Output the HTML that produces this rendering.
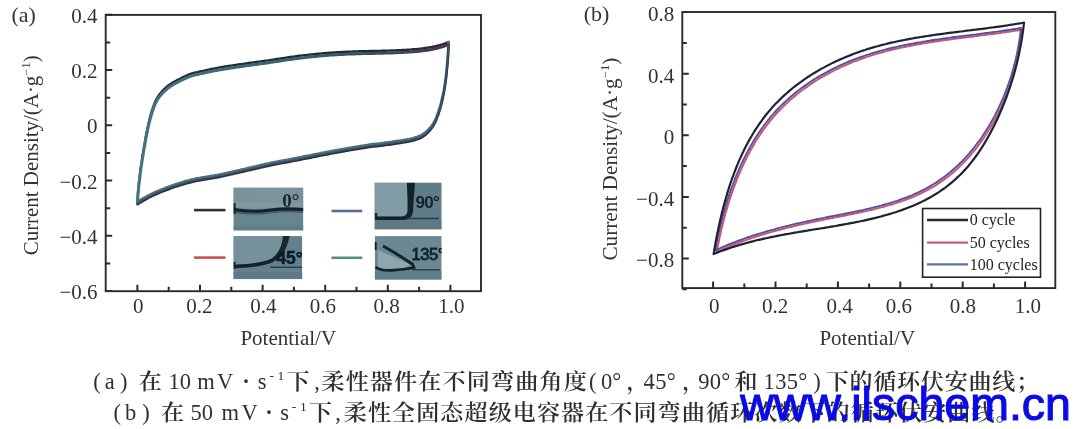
<!DOCTYPE html>
<html><head><meta charset="utf-8"><title>CV curves</title>
<style>html,body{margin:0;padding:0;background:#fff;width:1080px;height:429px;overflow:hidden}
.wrap{position:relative;width:1080px;height:429px}</style></head>
<body><div class="wrap">
<svg width="1080" height="429" viewBox="0 0 1080 429" style="position:absolute;left:0;top:0"><rect width="1080" height="429" fill="#fff"/><defs><linearGradient id="gU" gradientUnits="userSpaceOnUse" x1="140" y1="0" x2="450" y2="0"><stop offset="0" stop-color="#46747f"/><stop offset="0.5" stop-color="#3a6070"/><stop offset="0.85" stop-color="#344a5c"/><stop offset="1" stop-color="#46344a"/></linearGradient><linearGradient id="gT" gradientUnits="userSpaceOnUse" x1="140" y1="0" x2="450" y2="0"><stop offset="0" stop-color="#243440"/><stop offset="0.7" stop-color="#1e2834"/><stop offset="1" stop-color="#3a2230"/></linearGradient></defs><g fill="none" stroke-linejoin="round" stroke-linecap="round"><path d="M137.6,203.0 L137.7,201.5 L137.7,200.0 L137.8,198.5 L137.8,197.0 L137.9,195.5 L138.0,194.0 L138.1,192.5 L138.2,191.0 L138.4,189.5 L138.5,188.0 L138.7,186.5 L138.8,185.0 L139.0,183.5 L139.1,182.0 L139.3,180.5 L139.5,179.0 L139.7,177.5 L139.9,176.1 L140.0,174.6 L140.2,173.1 L140.4,171.6 L140.6,170.1 L140.8,168.6 L141.0,167.1 L141.2,165.6 L141.5,164.1 L141.7,162.7 L141.9,161.2 L142.1,159.7 L142.4,158.2 L142.6,156.7 L142.9,155.2 L143.1,153.7 L143.3,152.3 L143.6,150.8 L143.8,149.3 L144.1,147.8 L144.3,146.3 L144.6,144.9 L144.9,143.4 L145.1,141.9 L145.4,140.4 L145.6,138.9 L145.9,137.5 L146.2,136.0 L146.5,134.5 L146.8,133.0 L147.1,131.6 L147.4,130.1 L147.7,128.6 L148.0,127.1 L148.3,125.7 L148.7,124.2 L149.0,122.8 L149.4,121.3 L149.7,119.8 L150.1,118.4 L150.5,116.9 L150.9,115.5 L151.3,114.0 L151.7,112.6 L152.2,111.2 L152.7,109.7 L153.1,108.3 L153.7,106.9 L154.2,105.5 L154.8,104.1 L155.4,102.7 L156.0,101.4 L156.7,100.1 L157.5,98.8 L158.3,97.5 L159.1,96.2 L160.0,95.1 L161.0,93.9 L162.0,92.8 L163.0,91.7 L164.1,90.6 L165.2,89.6 L166.3,88.6 L167.4,87.6 L168.6,86.7 L169.8,85.8 L171.1,85.0 L172.3,84.2 L173.6,83.4 L174.9,82.7 L176.3,82.0 L177.6,81.3 L178.9,80.6 L180.3,79.9 L181.6,79.2 L182.9,78.5 L184.3,77.9 L185.7,77.3 L187.0,76.7 L188.4,76.1 L189.8,75.6 L191.3,75.1 L192.7,74.6 L194.1,74.2 L195.6,73.9 L197.1,73.6 L198.5,73.2 L200.0,72.9 L201.5,72.6 L202.9,72.3 L204.4,72.0 L205.9,71.6 L207.3,71.3 L208.8,71.0 L210.3,70.7 L211.7,70.4 L213.2,70.1 L214.7,69.8 L216.2,69.5 L217.6,69.2 L219.1,68.9 L220.6,68.7 L222.1,68.4 L223.6,68.2 L225.1,67.9 L226.5,67.7 L228.0,67.5 L229.5,67.2 L231.0,67.0 L232.5,66.8 L234.0,66.6 L235.5,66.4 L236.9,66.1 L238.4,65.9 L239.9,65.7 L241.4,65.5 L242.9,65.3 L244.4,65.1 L245.9,64.9 L247.4,64.6 L248.8,64.4 L250.3,64.2 L251.8,64.0 L253.3,63.8 L254.8,63.6 L256.3,63.4 L257.8,63.2 L259.3,63.0 L260.7,62.8 L262.2,62.6 L263.7,62.4 L265.2,62.2 L266.7,62.0 L268.2,61.8 L269.7,61.5 L271.2,61.3 L272.7,61.1 L274.1,60.9 L275.6,60.6 L277.1,60.4 L278.6,60.2 L280.1,60.0 L281.6,59.7 L283.1,59.5 L284.5,59.3 L286.0,59.0 L287.5,58.8 L289.0,58.6 L290.5,58.4 L292.0,58.2 L293.5,58.0 L295.0,57.8 L296.4,57.6 L297.9,57.4 L299.4,57.2 L300.9,57.0 L302.4,56.8 L303.9,56.7 L305.4,56.5 L306.9,56.3 L308.4,56.2 L309.9,56.0 L311.4,55.8 L312.9,55.7 L314.4,55.5 L315.9,55.4 L317.4,55.2 L318.9,55.1 L320.3,55.0 L321.8,54.8 L323.3,54.7 L324.8,54.6 L326.3,54.4 L327.8,54.3 L329.3,54.2 L330.8,54.1 L332.3,54.0 L333.8,53.9 L335.3,53.8 L336.8,53.7 L338.3,53.6 L339.8,53.5 L341.3,53.4 L342.8,53.4 L344.3,53.3 L345.8,53.2 L347.3,53.1 L348.8,53.1 L350.3,53.0 L351.8,53.0 L353.3,52.9 L354.8,52.9 L356.3,52.8 L357.9,52.8 L359.4,52.7 L360.9,52.7 L362.4,52.6 L363.9,52.6 L365.4,52.5 L366.9,52.5 L368.4,52.5 L369.9,52.4 L371.4,52.4 L372.9,52.4 L374.4,52.4 L375.9,52.3 L377.4,52.3 L378.9,52.3 L380.4,52.3 L381.9,52.2 L383.4,52.2 L384.9,52.1 L386.4,52.1 L387.9,52.0 L389.4,52.0 L390.9,51.9 L392.4,51.9 L393.9,51.8 L395.4,51.8 L396.9,51.7 L398.4,51.6 L399.9,51.6 L401.4,51.5 L402.9,51.4 L404.4,51.3 L405.9,51.3 L407.4,51.2 L408.9,51.1 L410.4,51.0 L411.9,50.8 L413.4,50.7 L414.9,50.6 L416.4,50.5 L417.9,50.3 L419.4,50.2 L420.9,50.0 L422.4,49.8 L423.9,49.6 L425.4,49.4 L426.9,49.2 L428.3,49.0 L429.8,48.7 L431.3,48.5 L432.8,48.2 L434.2,47.9 L435.7,47.5 L437.2,47.2 L438.6,46.8 L440.1,46.4 L441.5,46.0 L443.0,45.6 L444.4,45.1 L445.8,44.5 L447.1,43.9 L448.5,43.3" stroke="url(#gT)" stroke-width="2.4" transform="translate(0,-1.4)"/><path d="M137.6,203.0 L137.7,201.5 L137.7,200.0 L137.8,198.5 L137.8,197.0 L137.9,195.5 L138.0,194.0 L138.1,192.5 L138.2,191.0 L138.4,189.5 L138.5,188.0 L138.7,186.5 L138.8,185.0 L139.0,183.5 L139.1,182.0 L139.3,180.5 L139.5,179.0 L139.7,177.5 L139.9,176.1 L140.0,174.6 L140.2,173.1 L140.4,171.6 L140.6,170.1 L140.8,168.6 L141.0,167.1 L141.2,165.6 L141.5,164.1 L141.7,162.7 L141.9,161.2 L142.1,159.7 L142.4,158.2 L142.6,156.7 L142.9,155.2 L143.1,153.7 L143.3,152.3 L143.6,150.8 L143.8,149.3 L144.1,147.8 L144.3,146.3 L144.6,144.9 L144.9,143.4 L145.1,141.9 L145.4,140.4 L145.6,138.9 L145.9,137.5 L146.2,136.0 L146.5,134.5 L146.8,133.0 L147.1,131.6 L147.4,130.1 L147.7,128.6 L148.0,127.1 L148.3,125.7 L148.7,124.2 L149.0,122.8 L149.4,121.3 L149.7,119.8 L150.1,118.4 L150.5,116.9 L150.9,115.5 L151.3,114.0 L151.7,112.6 L152.2,111.2 L152.7,109.7 L153.1,108.3 L153.7,106.9 L154.2,105.5 L154.8,104.1 L155.4,102.7 L156.0,101.4 L156.7,100.1 L157.5,98.8 L158.3,97.5 L159.1,96.2 L160.0,95.1 L161.0,93.9 L162.0,92.8 L163.0,91.7 L164.1,90.6 L165.2,89.6 L166.3,88.6 L167.4,87.6 L168.6,86.7 L169.8,85.8 L171.1,85.0 L172.3,84.2 L173.6,83.4 L174.9,82.7 L176.3,82.0 L177.6,81.3 L178.9,80.6 L180.3,79.9 L181.6,79.2 L182.9,78.5 L184.3,77.9 L185.7,77.3 L187.0,76.7 L188.4,76.1 L189.8,75.6 L191.3,75.1 L192.7,74.6 L194.1,74.2 L195.6,73.9 L197.1,73.6 L198.5,73.2 L200.0,72.9 L201.5,72.6 L202.9,72.3 L204.4,72.0 L205.9,71.6 L207.3,71.3 L208.8,71.0 L210.3,70.7 L211.7,70.4 L213.2,70.1 L214.7,69.8 L216.2,69.5 L217.6,69.2 L219.1,68.9 L220.6,68.7 L222.1,68.4 L223.6,68.2 L225.1,67.9 L226.5,67.7 L228.0,67.5 L229.5,67.2 L231.0,67.0 L232.5,66.8 L234.0,66.6 L235.5,66.4 L236.9,66.1 L238.4,65.9 L239.9,65.7 L241.4,65.5 L242.9,65.3 L244.4,65.1 L245.9,64.9 L247.4,64.6 L248.8,64.4 L250.3,64.2 L251.8,64.0 L253.3,63.8 L254.8,63.6 L256.3,63.4 L257.8,63.2 L259.3,63.0 L260.7,62.8 L262.2,62.6 L263.7,62.4 L265.2,62.2 L266.7,62.0 L268.2,61.8 L269.7,61.5 L271.2,61.3 L272.7,61.1 L274.1,60.9 L275.6,60.6 L277.1,60.4 L278.6,60.2 L280.1,60.0 L281.6,59.7 L283.1,59.5 L284.5,59.3 L286.0,59.0 L287.5,58.8 L289.0,58.6 L290.5,58.4 L292.0,58.2 L293.5,58.0 L295.0,57.8 L296.4,57.6 L297.9,57.4 L299.4,57.2 L300.9,57.0 L302.4,56.8 L303.9,56.7 L305.4,56.5 L306.9,56.3 L308.4,56.2 L309.9,56.0 L311.4,55.8 L312.9,55.7 L314.4,55.5 L315.9,55.4 L317.4,55.2 L318.9,55.1 L320.3,55.0 L321.8,54.8 L323.3,54.7 L324.8,54.6 L326.3,54.4 L327.8,54.3 L329.3,54.2 L330.8,54.1 L332.3,54.0 L333.8,53.9 L335.3,53.8 L336.8,53.7 L338.3,53.6 L339.8,53.5 L341.3,53.4 L342.8,53.4 L344.3,53.3 L345.8,53.2 L347.3,53.1 L348.8,53.1 L350.3,53.0 L351.8,53.0 L353.3,52.9 L354.8,52.9 L356.3,52.8 L357.9,52.8 L359.4,52.7 L360.9,52.7 L362.4,52.6 L363.9,52.6 L365.4,52.5 L366.9,52.5 L368.4,52.5 L369.9,52.4 L371.4,52.4 L372.9,52.4 L374.4,52.4 L375.9,52.3 L377.4,52.3 L378.9,52.3 L380.4,52.3 L381.9,52.2 L383.4,52.2 L384.9,52.1 L386.4,52.1 L387.9,52.0 L389.4,52.0 L390.9,51.9 L392.4,51.9 L393.9,51.8 L395.4,51.8 L396.9,51.7 L398.4,51.6 L399.9,51.6 L401.4,51.5 L402.9,51.4 L404.4,51.3 L405.9,51.3 L407.4,51.2 L408.9,51.1 L410.4,51.0 L411.9,50.8 L413.4,50.7 L414.9,50.6 L416.4,50.5 L417.9,50.3 L419.4,50.2 L420.9,50.0 L422.4,49.8 L423.9,49.6 L425.4,49.4 L426.9,49.2 L428.3,49.0 L429.8,48.7 L431.3,48.5 L432.8,48.2 L434.2,47.9 L435.7,47.5 L437.2,47.2 L438.6,46.8 L440.1,46.4 L441.5,46.0 L443.0,45.6 L444.4,45.1 L445.8,44.5 L447.1,43.9 L448.5,43.3" stroke="url(#gU)" stroke-width="3" transform="translate(0,1.0)"/><path d="M448.5,43.3 L448.5,44.8 L448.4,46.3 L448.4,47.8 L448.3,49.3 L448.3,50.8 L448.2,52.3 L448.1,53.8 L448.0,55.3 L447.9,56.8 L447.8,58.3 L447.7,59.8 L447.6,61.3 L447.4,62.8 L447.3,64.3 L447.2,65.8 L447.0,67.3 L446.9,68.8 L446.8,70.3 L446.6,71.8 L446.5,73.2 L446.3,74.7 L446.1,76.2 L446.0,77.7 L445.8,79.2 L445.6,80.7 L445.4,82.2 L445.2,83.7 L444.9,85.2 L444.7,86.6 L444.5,88.1 L444.2,89.6 L444.0,91.1 L443.7,92.6 L443.4,94.0 L443.1,95.5 L442.8,97.0 L442.5,98.4 L442.1,99.9 L441.8,101.4 L441.4,102.8 L441.1,104.3 L440.7,105.7 L440.3,107.2 L439.9,108.6 L439.4,110.0 L438.9,111.5 L438.5,112.9 L438.0,114.3 L437.4,115.7 L436.9,117.1 L436.4,118.5 L435.8,119.9 L435.2,121.3 L434.5,122.6 L433.8,123.9 L433.0,125.2 L432.2,126.4 L431.3,127.6 L430.3,128.8 L429.3,129.9 L428.3,131.0 L427.2,132.1 L426.1,133.1 L425.0,134.0 L423.8,134.9 L422.5,135.7 L421.2,136.5 L419.9,137.1 L418.5,137.6 L417.1,138.2 L415.6,138.6 L414.2,139.1 L412.8,139.5 L411.3,139.8 L409.8,140.2 L408.4,140.5 L406.9,140.7 L405.4,141.0 L403.9,141.2 L402.5,141.5 L401.0,141.7 L399.5,142.0 L398.0,142.2 L396.5,142.4 L395.0,142.6 L393.5,142.8 L392.1,143.1 L390.6,143.3 L389.1,143.5 L387.6,143.7 L386.1,143.9 L384.6,144.1 L383.1,144.3 L381.7,144.5 L380.2,144.7 L378.7,144.8 L377.2,145.0 L375.7,145.1 L374.2,145.3 L372.7,145.4 L371.2,145.6 L369.7,145.8 L368.2,146.1 L366.8,146.3 L365.3,146.5 L363.8,146.8 L362.3,147.0 L360.8,147.2 L359.3,147.5 L357.9,147.7 L356.4,148.0 L354.9,148.2 L353.4,148.5 L351.9,148.7 L350.5,149.0 L349.0,149.2 L347.5,149.5 L346.0,149.7 L344.5,150.0 L343.1,150.3 L341.6,150.5 L340.1,150.8 L338.6,151.1 L337.2,151.3 L335.7,151.6 L334.2,151.9 L332.7,152.2 L331.3,152.4 L329.8,152.7 L328.3,153.0 L326.8,153.3 L325.4,153.6 L323.9,153.9 L322.4,154.2 L320.9,154.4 L319.5,154.7 L318.0,155.0 L316.5,155.3 L315.1,155.6 L313.6,155.9 L312.1,156.2 L310.6,156.5 L309.2,156.8 L307.7,157.0 L306.2,157.3 L304.7,157.6 L303.3,157.9 L301.8,158.2 L300.3,158.5 L298.8,158.8 L297.4,159.1 L295.9,159.4 L294.4,159.6 L293.0,159.9 L291.5,160.2 L290.0,160.5 L288.5,160.8 L287.1,161.1 L285.6,161.3 L284.1,161.6 L282.6,161.9 L281.2,162.1 L279.7,162.4 L278.2,162.7 L276.7,163.0 L275.3,163.2 L273.8,163.5 L272.3,163.8 L270.8,164.1 L269.4,164.5 L267.9,164.8 L266.4,165.1 L265.0,165.4 L263.5,165.8 L262.0,166.1 L260.6,166.4 L259.1,166.8 L257.7,167.1 L256.2,167.5 L254.7,167.8 L253.3,168.1 L251.8,168.5 L250.3,168.8 L248.9,169.1 L247.4,169.5 L246.0,169.8 L244.5,170.2 L243.0,170.5 L241.6,170.8 L240.1,171.2 L238.6,171.5 L237.2,171.9 L235.7,172.2 L234.3,172.5 L232.8,172.9 L231.3,173.2 L229.9,173.5 L228.4,173.9 L226.9,174.2 L225.5,174.5 L224.0,174.9 L222.5,175.2 L221.1,175.5 L219.6,175.8 L218.1,176.1 L216.7,176.3 L215.2,176.6 L213.7,176.9 L212.2,177.1 L210.7,177.3 L209.3,177.6 L207.8,177.8 L206.3,178.1 L204.8,178.3 L203.3,178.5 L201.8,178.8 L200.4,179.1 L198.9,179.3 L197.4,179.6 L196.0,179.9 L194.5,180.2 L193.0,180.6 L191.6,180.9 L190.1,181.3 L188.7,181.7 L187.2,182.0 L185.8,182.4 L184.3,182.9 L182.9,183.3 L181.4,183.7 L180.0,184.2 L178.6,184.6 L177.1,185.1 L175.7,185.5 L174.3,186.0 L172.9,186.5 L171.5,187.0 L170.0,187.5 L168.6,188.1 L167.2,188.6 L165.8,189.1 L164.4,189.7 L163.0,190.2 L161.6,190.8 L160.3,191.3 L158.9,191.9 L157.5,192.5 L156.1,193.1 L154.7,193.7 L153.4,194.3 L152.0,195.0 L150.7,195.6 L149.3,196.3 L148.0,197.0 L146.7,197.7 L145.4,198.4 L144.0,199.2 L142.7,199.9 L141.5,200.7 L140.2,201.4 L138.9,202.2 L137.6,203.0" stroke="#4b7080" stroke-width="2.8" transform="translate(0,-1.2)"/><path d="M448.5,43.3 L448.5,44.8 L448.4,46.3 L448.4,47.8 L448.3,49.3 L448.3,50.8 L448.2,52.3 L448.1,53.8 L448.0,55.3 L447.9,56.8 L447.8,58.3 L447.7,59.8 L447.6,61.3 L447.4,62.8 L447.3,64.3 L447.2,65.8 L447.0,67.3 L446.9,68.8 L446.8,70.3 L446.6,71.8 L446.5,73.2 L446.3,74.7 L446.1,76.2 L446.0,77.7 L445.8,79.2 L445.6,80.7 L445.4,82.2 L445.2,83.7 L444.9,85.2 L444.7,86.6 L444.5,88.1 L444.2,89.6 L444.0,91.1 L443.7,92.6 L443.4,94.0 L443.1,95.5 L442.8,97.0 L442.5,98.4 L442.1,99.9 L441.8,101.4 L441.4,102.8 L441.1,104.3 L440.7,105.7 L440.3,107.2 L439.9,108.6 L439.4,110.0 L438.9,111.5 L438.5,112.9 L438.0,114.3 L437.4,115.7 L436.9,117.1 L436.4,118.5 L435.8,119.9 L435.2,121.3 L434.5,122.6 L433.8,123.9 L433.0,125.2 L432.2,126.4 L431.3,127.6 L430.3,128.8 L429.3,129.9 L428.3,131.0 L427.2,132.1 L426.1,133.1 L425.0,134.0 L423.8,134.9 L422.5,135.7 L421.2,136.5 L419.9,137.1 L418.5,137.6 L417.1,138.2 L415.6,138.6 L414.2,139.1 L412.8,139.5 L411.3,139.8 L409.8,140.2 L408.4,140.5 L406.9,140.7 L405.4,141.0 L403.9,141.2 L402.5,141.5 L401.0,141.7 L399.5,142.0 L398.0,142.2 L396.5,142.4 L395.0,142.6 L393.5,142.8 L392.1,143.1 L390.6,143.3 L389.1,143.5 L387.6,143.7 L386.1,143.9 L384.6,144.1 L383.1,144.3 L381.7,144.5 L380.2,144.7 L378.7,144.8 L377.2,145.0 L375.7,145.1 L374.2,145.3 L372.7,145.4 L371.2,145.6 L369.7,145.8 L368.2,146.1 L366.8,146.3 L365.3,146.5 L363.8,146.8 L362.3,147.0 L360.8,147.2 L359.3,147.5 L357.9,147.7 L356.4,148.0 L354.9,148.2 L353.4,148.5 L351.9,148.7 L350.5,149.0 L349.0,149.2 L347.5,149.5 L346.0,149.7 L344.5,150.0 L343.1,150.3 L341.6,150.5 L340.1,150.8 L338.6,151.1 L337.2,151.3 L335.7,151.6 L334.2,151.9 L332.7,152.2 L331.3,152.4 L329.8,152.7 L328.3,153.0 L326.8,153.3 L325.4,153.6 L323.9,153.9 L322.4,154.2 L320.9,154.4 L319.5,154.7 L318.0,155.0 L316.5,155.3 L315.1,155.6 L313.6,155.9 L312.1,156.2 L310.6,156.5 L309.2,156.8 L307.7,157.0 L306.2,157.3 L304.7,157.6 L303.3,157.9 L301.8,158.2 L300.3,158.5 L298.8,158.8 L297.4,159.1 L295.9,159.4 L294.4,159.6 L293.0,159.9 L291.5,160.2 L290.0,160.5 L288.5,160.8 L287.1,161.1 L285.6,161.3 L284.1,161.6 L282.6,161.9 L281.2,162.1 L279.7,162.4 L278.2,162.7 L276.7,163.0 L275.3,163.2 L273.8,163.5 L272.3,163.8 L270.8,164.1 L269.4,164.5 L267.9,164.8 L266.4,165.1 L265.0,165.4 L263.5,165.8 L262.0,166.1 L260.6,166.4 L259.1,166.8 L257.7,167.1 L256.2,167.5 L254.7,167.8 L253.3,168.1 L251.8,168.5 L250.3,168.8 L248.9,169.1 L247.4,169.5 L246.0,169.8 L244.5,170.2 L243.0,170.5 L241.6,170.8 L240.1,171.2 L238.6,171.5 L237.2,171.9 L235.7,172.2 L234.3,172.5 L232.8,172.9 L231.3,173.2 L229.9,173.5 L228.4,173.9 L226.9,174.2 L225.5,174.5 L224.0,174.9 L222.5,175.2 L221.1,175.5 L219.6,175.8 L218.1,176.1 L216.7,176.3 L215.2,176.6 L213.7,176.9 L212.2,177.1 L210.7,177.3 L209.3,177.6 L207.8,177.8 L206.3,178.1 L204.8,178.3 L203.3,178.5 L201.8,178.8 L200.4,179.1 L198.9,179.3 L197.4,179.6 L196.0,179.9 L194.5,180.2 L193.0,180.6 L191.6,180.9 L190.1,181.3 L188.7,181.7 L187.2,182.0 L185.8,182.4 L184.3,182.9 L182.9,183.3 L181.4,183.7 L180.0,184.2 L178.6,184.6 L177.1,185.1 L175.7,185.5 L174.3,186.0 L172.9,186.5 L171.5,187.0 L170.0,187.5 L168.6,188.1 L167.2,188.6 L165.8,189.1 L164.4,189.7 L163.0,190.2 L161.6,190.8 L160.3,191.3 L158.9,191.9 L157.5,192.5 L156.1,193.1 L154.7,193.7 L153.4,194.3 L152.0,195.0 L150.7,195.6 L149.3,196.3 L148.0,197.0 L146.7,197.7 L145.4,198.4 L144.0,199.2 L142.7,199.9 L141.5,200.7 L140.2,201.4 L138.9,202.2 L137.6,203.0" stroke="#2c3242" stroke-width="2.4" transform="translate(0,1.2)"/><path d="M448.5,43.3 L448.5,44.8 L448.4,46.3 L448.4,47.8 L448.3,49.3 L448.3,50.8 L448.2,52.3 L448.1,53.8 L448.0,55.3 L447.9,56.8 L447.8,58.3 L447.7,59.8 L447.6,61.3 L447.4,62.8 L447.3,64.3 L447.2,65.8 L447.0,67.3 L446.9,68.8 L446.8,70.3 L446.6,71.8 L446.5,73.2 L446.3,74.7 L446.1,76.2 L446.0,77.7 L445.8,79.2 L445.6,80.7 L445.4,82.2 L445.2,83.7 L444.9,85.2 L444.7,86.6 L444.5,88.1 L444.2,89.6 L444.0,91.1 L443.7,92.6 L443.4,94.0 L443.1,95.5 L442.8,97.0 L442.5,98.4 L442.1,99.9 L441.8,101.4 L441.4,102.8 L441.1,104.3 L440.7,105.7 L440.3,107.2 L439.9,108.6 L439.4,110.0 L438.9,111.5 L438.5,112.9 L438.0,114.3 L437.4,115.7 L436.9,117.1 L436.4,118.5 L435.8,119.9 L435.2,121.3 L434.5,122.6 L433.8,123.9 L433.0,125.2 L432.2,126.4 L431.3,127.6 L430.3,128.8 L429.3,129.9 L428.3,131.0 L427.2,132.1 L426.1,133.1 L425.0,134.0 L423.8,134.9 L422.5,135.7 L421.2,136.5 L419.9,137.1 L418.5,137.6 L417.1,138.2 L415.6,138.6 L414.2,139.1 L412.8,139.5 L411.3,139.8 L409.8,140.2 L408.4,140.5 L406.9,140.7 L405.4,141.0 L403.9,141.2 L402.5,141.5 L401.0,141.7 L399.5,142.0 L398.0,142.2 L396.5,142.4 L395.0,142.6 L393.5,142.8 L392.1,143.1 L390.6,143.3 L389.1,143.5 L387.6,143.7 L386.1,143.9 L384.6,144.1 L383.1,144.3 L381.7,144.5 L380.2,144.7 L378.7,144.8 L377.2,145.0 L375.7,145.1 L374.2,145.3 L372.7,145.4 L371.2,145.6 L369.7,145.8 L368.2,146.1 L366.8,146.3 L365.3,146.5 L363.8,146.8 L362.3,147.0 L360.8,147.2 L359.3,147.5 L357.9,147.7 L356.4,148.0 L354.9,148.2 L353.4,148.5 L351.9,148.7 L350.5,149.0 L349.0,149.2 L347.5,149.5 L346.0,149.7 L344.5,150.0 L343.1,150.3 L341.6,150.5 L340.1,150.8 L338.6,151.1 L337.2,151.3 L335.7,151.6 L334.2,151.9 L332.7,152.2 L331.3,152.4 L329.8,152.7 L328.3,153.0 L326.8,153.3 L325.4,153.6 L323.9,153.9 L322.4,154.2 L320.9,154.4 L319.5,154.7 L318.0,155.0 L316.5,155.3 L315.1,155.6 L313.6,155.9 L312.1,156.2 L310.6,156.5 L309.2,156.8 L307.7,157.0 L306.2,157.3 L304.7,157.6 L303.3,157.9 L301.8,158.2 L300.3,158.5 L298.8,158.8 L297.4,159.1 L295.9,159.4 L294.4,159.6 L293.0,159.9 L291.5,160.2 L290.0,160.5 L288.5,160.8 L287.1,161.1 L285.6,161.3 L284.1,161.6 L282.6,161.9 L281.2,162.1 L279.7,162.4 L278.2,162.7 L276.7,163.0 L275.3,163.2 L273.8,163.5 L272.3,163.8 L270.8,164.1 L269.4,164.5 L267.9,164.8 L266.4,165.1 L265.0,165.4 L263.5,165.8 L262.0,166.1 L260.6,166.4 L259.1,166.8 L257.7,167.1 L256.2,167.5 L254.7,167.8 L253.3,168.1 L251.8,168.5 L250.3,168.8 L248.9,169.1 L247.4,169.5 L246.0,169.8 L244.5,170.2 L243.0,170.5 L241.6,170.8 L240.1,171.2 L238.6,171.5 L237.2,171.9 L235.7,172.2 L234.3,172.5 L232.8,172.9 L231.3,173.2 L229.9,173.5 L228.4,173.9 L226.9,174.2 L225.5,174.5 L224.0,174.9 L222.5,175.2 L221.1,175.5 L219.6,175.8 L218.1,176.1 L216.7,176.3 L215.2,176.6 L213.7,176.9 L212.2,177.1 L210.7,177.3 L209.3,177.6 L207.8,177.8 L206.3,178.1 L204.8,178.3 L203.3,178.5 L201.8,178.8 L200.4,179.1 L198.9,179.3 L197.4,179.6 L196.0,179.9 L194.5,180.2 L193.0,180.6 L191.6,180.9 L190.1,181.3 L188.7,181.7 L187.2,182.0 L185.8,182.4 L184.3,182.9 L182.9,183.3 L181.4,183.7 L180.0,184.2 L178.6,184.6 L177.1,185.1 L175.7,185.5 L174.3,186.0 L172.9,186.5 L171.5,187.0 L170.0,187.5 L168.6,188.1 L167.2,188.6 L165.8,189.1 L164.4,189.7 L163.0,190.2 L161.6,190.8 L160.3,191.3 L158.9,191.9 L157.5,192.5 L156.1,193.1 L154.7,193.7 L153.4,194.3 L152.0,195.0 L150.7,195.6 L149.3,196.3 L148.0,197.0 L146.7,197.7 L145.4,198.4 L144.0,199.2 L142.7,199.9 L141.5,200.7 L140.2,201.4 L138.9,202.2 L137.6,203.0" stroke="#3d5468" stroke-width="1.4" transform="translate(0,0.1)"/></g><g fill="none" stroke-linejoin="round"><path d="M715.8,250.5 L716.2,248.5 L716.6,246.5 L717.0,244.4 L717.4,242.4 L717.8,240.4 L718.2,238.3 L718.6,236.3 L719.1,234.2 L719.5,232.2 L720.0,230.1 L720.5,228.1 L721.0,226.0 L721.5,224.0 L722.0,221.9 L722.5,219.9 L723.0,217.8 L723.6,215.8 L724.1,213.7 L724.7,211.7 L725.3,209.6 L725.9,207.6 L726.5,205.5 L727.1,203.5 L727.7,201.5 L728.4,199.4 L729.0,197.4 L729.7,195.4 L730.4,193.4 L731.1,191.3 L731.8,189.3 L732.5,187.3 L733.3,185.3 L734.0,183.3 L734.8,181.3 L735.5,179.3 L736.3,177.4 L737.1,175.4 L738.0,173.4 L738.8,171.5 L739.6,169.5 L740.5,167.6 L741.4,165.6 L742.3,163.7 L743.2,161.8 L744.1,159.9 L745.0,158.0 L746.0,156.1 L746.9,154.2 L747.9,152.4 L748.9,150.5 L749.9,148.7 L751.0,146.8 L752.0,145.0 L753.1,143.2 L754.1,141.4 L755.2,139.6 L756.3,137.8 L757.5,136.1 L758.6,134.3 L759.8,132.6 L761.0,130.9 L762.1,129.2 L763.4,127.5 L764.6,125.8 L765.8,124.2 L767.1,122.5 L768.4,120.9 L769.7,119.3 L771.0,117.7 L772.3,116.1 L773.7,114.6 L775.0,113.0 L776.4,111.5 L777.8,110.0 L779.2,108.5 L780.7,107.1 L782.1,105.6 L783.6,104.2 L785.1,102.8 L786.6,101.4 L788.1,100.0 L789.6,98.6 L791.2,97.3 L792.7,95.9 L794.3,94.6 L795.9,93.3 L797.5,92.0 L799.1,90.8 L800.8,89.5 L802.4,88.3 L804.1,87.1 L805.8,85.9 L807.5,84.7 L809.2,83.5 L810.9,82.4 L812.6,81.2 L814.3,80.1 L816.1,79.0 L817.9,77.9 L819.6,76.9 L821.4,75.8 L823.2,74.8 L825.1,73.8 L826.9,72.8 L828.7,71.8 L830.6,70.8 L832.4,69.9 L834.3,68.9 L836.2,68.0 L838.1,67.1 L839.9,66.2 L841.9,65.3 L843.8,64.5 L845.7,63.6 L847.6,62.8 L849.6,62.0 L851.5,61.2 L853.5,60.4 L855.4,59.7 L857.4,58.9 L859.4,58.2 L861.4,57.5 L863.4,56.8 L865.4,56.1 L867.4,55.4 L869.4,54.8 L871.4,54.1 L873.5,53.5 L875.5,52.9 L877.6,52.3 L879.6,51.7 L881.7,51.2 L883.7,50.6 L885.8,50.1 L887.8,49.5 L889.9,49.0 L892.0,48.5 L894.1,48.0 L896.2,47.6 L898.3,47.1 L900.4,46.6 L902.5,46.2 L904.6,45.7 L906.7,45.3 L908.8,44.9 L910.9,44.5 L913.0,44.1 L915.1,43.7 L917.2,43.3 L919.3,42.9 L921.5,42.6 L923.6,42.2 L925.7,41.9 L927.8,41.5 L929.9,41.2 L932.1,40.8 L934.2,40.5 L936.3,40.2 L938.5,39.9 L940.6,39.6 L942.7,39.3 L944.8,39.0 L947.0,38.7 L949.1,38.4 L951.2,38.1 L953.3,37.8 L955.5,37.5 L957.6,37.3 L959.7,37.0 L961.8,36.7 L963.9,36.5 L966.0,36.2 L968.2,35.9 L970.3,35.7 L972.4,35.4 L974.5,35.1 L976.6,34.9 L978.7,34.6 L980.8,34.3 L982.8,34.1 L984.9,33.8 L987.0,33.5 L989.1,33.3 L991.1,33.0 L993.2,32.7 L995.3,32.4 L997.3,32.2 L999.4,31.9 L1001.4,31.6 L1003.5,31.3 L1005.5,31.0 L1007.5,30.7 L1009.5,30.4 L1011.5,30.1 L1013.5,29.8 L1015.5,29.5 L1017.5,29.2 L1019.5,28.8 L1021.5,28.5 L1021.3,30.5 L1021.0,32.6 L1020.8,34.6 L1020.5,36.6 L1020.2,38.7 L1019.9,40.7 L1019.6,42.7 L1019.3,44.8 L1018.9,46.8 L1018.5,48.9 L1018.1,50.9 L1017.7,52.9 L1017.3,55.0 L1016.8,57.0 L1016.4,59.0 L1015.9,61.1 L1015.4,63.1 L1014.8,65.1 L1014.3,67.2 L1013.8,69.2 L1013.2,71.2 L1012.6,73.2 L1012.0,75.2 L1011.4,77.2 L1010.7,79.2 L1010.1,81.2 L1009.4,83.2 L1008.7,85.2 L1008.0,87.2 L1007.3,89.2 L1006.5,91.2 L1005.7,93.1 L1005.0,95.1 L1004.2,97.0 L1003.4,99.0 L1002.5,100.9 L1001.7,102.8 L1000.8,104.7 L999.9,106.7 L999.0,108.6 L998.1,110.4 L997.2,112.3 L996.2,114.2 L995.3,116.1 L994.3,117.9 L993.3,119.7 L992.3,121.6 L991.2,123.4 L990.2,125.2 L989.1,127.0 L988.0,128.8 L986.9,130.5 L985.8,132.3 L984.7,134.0 L983.5,135.8 L982.4,137.5 L981.2,139.2 L980.0,140.9 L978.8,142.5 L977.5,144.2 L976.3,145.8 L975.0,147.5 L973.7,149.1 L972.4,150.7 L971.1,152.2 L969.8,153.8 L968.4,155.3 L967.0,156.9 L965.7,158.4 L964.3,159.8 L962.9,161.3 L961.4,162.8 L960.0,164.2 L958.5,165.6 L957.0,167.0 L955.5,168.4 L954.0,169.7 L952.5,171.1 L950.9,172.4 L949.4,173.7 L947.8,174.9 L946.2,176.2 L944.6,177.4 L943.0,178.6 L941.3,179.8 L939.7,180.9 L938.0,182.1 L936.3,183.2 L934.6,184.3 L932.9,185.3 L931.2,186.4 L929.4,187.4 L927.6,188.4 L925.8,189.3 L924.0,190.3 L922.2,191.2 L920.4,192.1 L918.6,193.0 L916.7,193.8 L914.8,194.7 L913.0,195.5 L911.1,196.3 L909.2,197.0 L907.2,197.8 L905.3,198.5 L903.4,199.2 L901.4,199.9 L899.5,200.6 L897.5,201.3 L895.5,201.9 L893.5,202.6 L891.6,203.2 L889.5,203.8 L887.5,204.4 L885.5,204.9 L883.5,205.5 L881.5,206.1 L879.4,206.6 L877.4,207.1 L875.3,207.6 L873.3,208.2 L871.2,208.7 L869.1,209.1 L867.1,209.6 L865.0,210.1 L862.9,210.6 L860.8,211.0 L858.8,211.5 L856.7,211.9 L854.6,212.3 L852.5,212.8 L850.4,213.2 L848.3,213.6 L846.2,214.0 L844.1,214.5 L842.0,214.9 L840.0,215.3 L837.9,215.7 L835.8,216.1 L833.7,216.5 L831.6,216.9 L829.5,217.3 L827.4,217.7 L825.4,218.1 L823.3,218.6 L821.2,219.0 L819.2,219.4 L817.1,219.8 L815.0,220.2 L813.0,220.7 L810.9,221.1 L808.9,221.5 L806.9,222.0 L804.8,222.4 L802.8,222.9 L800.8,223.3 L798.7,223.8 L796.7,224.2 L794.7,224.7 L792.7,225.2 L790.7,225.7 L788.7,226.2 L786.7,226.6 L784.7,227.1 L782.7,227.7 L780.7,228.2 L778.7,228.7 L776.7,229.2 L774.8,229.8 L772.8,230.3 L770.8,230.9 L768.8,231.4 L766.9,232.0 L764.9,232.6 L762.9,233.2 L761.0,233.8 L759.0,234.4 L757.1,235.0 L755.1,235.6 L753.2,236.2 L751.2,236.9 L749.3,237.5 L747.3,238.2 L745.4,238.9 L743.5,239.6 L741.5,240.3 L739.6,241.0 L737.7,241.7 L735.7,242.5 L733.8,243.2 L731.9,244.0 L729.9,244.7 L728.0,245.5 L726.1,246.3 L724.2,247.1 L722.3,247.9 L720.3,248.8 L718.4,249.6 L716.5,250.5 Z" stroke="#c4587a" stroke-width="2.0" transform="translate(1.0,1.0)"/><path d="M715.8,250.5 L716.2,248.5 L716.6,246.5 L717.0,244.4 L717.4,242.4 L717.8,240.4 L718.2,238.3 L718.6,236.3 L719.1,234.2 L719.5,232.2 L720.0,230.1 L720.5,228.1 L721.0,226.0 L721.5,224.0 L722.0,221.9 L722.5,219.9 L723.0,217.8 L723.6,215.8 L724.1,213.7 L724.7,211.7 L725.3,209.6 L725.9,207.6 L726.5,205.5 L727.1,203.5 L727.7,201.5 L728.4,199.4 L729.0,197.4 L729.7,195.4 L730.4,193.4 L731.1,191.3 L731.8,189.3 L732.5,187.3 L733.3,185.3 L734.0,183.3 L734.8,181.3 L735.5,179.3 L736.3,177.4 L737.1,175.4 L738.0,173.4 L738.8,171.5 L739.6,169.5 L740.5,167.6 L741.4,165.6 L742.3,163.7 L743.2,161.8 L744.1,159.9 L745.0,158.0 L746.0,156.1 L746.9,154.2 L747.9,152.4 L748.9,150.5 L749.9,148.7 L751.0,146.8 L752.0,145.0 L753.1,143.2 L754.1,141.4 L755.2,139.6 L756.3,137.8 L757.5,136.1 L758.6,134.3 L759.8,132.6 L761.0,130.9 L762.1,129.2 L763.4,127.5 L764.6,125.8 L765.8,124.2 L767.1,122.5 L768.4,120.9 L769.7,119.3 L771.0,117.7 L772.3,116.1 L773.7,114.6 L775.0,113.0 L776.4,111.5 L777.8,110.0 L779.2,108.5 L780.7,107.1 L782.1,105.6 L783.6,104.2 L785.1,102.8 L786.6,101.4 L788.1,100.0 L789.6,98.6 L791.2,97.3 L792.7,95.9 L794.3,94.6 L795.9,93.3 L797.5,92.0 L799.1,90.8 L800.8,89.5 L802.4,88.3 L804.1,87.1 L805.8,85.9 L807.5,84.7 L809.2,83.5 L810.9,82.4 L812.6,81.2 L814.3,80.1 L816.1,79.0 L817.9,77.9 L819.6,76.9 L821.4,75.8 L823.2,74.8 L825.1,73.8 L826.9,72.8 L828.7,71.8 L830.6,70.8 L832.4,69.9 L834.3,68.9 L836.2,68.0 L838.1,67.1 L839.9,66.2 L841.9,65.3 L843.8,64.5 L845.7,63.6 L847.6,62.8 L849.6,62.0 L851.5,61.2 L853.5,60.4 L855.4,59.7 L857.4,58.9 L859.4,58.2 L861.4,57.5 L863.4,56.8 L865.4,56.1 L867.4,55.4 L869.4,54.8 L871.4,54.1 L873.5,53.5 L875.5,52.9 L877.6,52.3 L879.6,51.7 L881.7,51.2 L883.7,50.6 L885.8,50.1 L887.8,49.5 L889.9,49.0 L892.0,48.5 L894.1,48.0 L896.2,47.6 L898.3,47.1 L900.4,46.6 L902.5,46.2 L904.6,45.7 L906.7,45.3 L908.8,44.9 L910.9,44.5 L913.0,44.1 L915.1,43.7 L917.2,43.3 L919.3,42.9 L921.5,42.6 L923.6,42.2 L925.7,41.9 L927.8,41.5 L929.9,41.2 L932.1,40.8 L934.2,40.5 L936.3,40.2 L938.5,39.9 L940.6,39.6 L942.7,39.3 L944.8,39.0 L947.0,38.7 L949.1,38.4 L951.2,38.1 L953.3,37.8 L955.5,37.5 L957.6,37.3 L959.7,37.0 L961.8,36.7 L963.9,36.5 L966.0,36.2 L968.2,35.9 L970.3,35.7 L972.4,35.4 L974.5,35.1 L976.6,34.9 L978.7,34.6 L980.8,34.3 L982.8,34.1 L984.9,33.8 L987.0,33.5 L989.1,33.3 L991.1,33.0 L993.2,32.7 L995.3,32.4 L997.3,32.2 L999.4,31.9 L1001.4,31.6 L1003.5,31.3 L1005.5,31.0 L1007.5,30.7 L1009.5,30.4 L1011.5,30.1 L1013.5,29.8 L1015.5,29.5 L1017.5,29.2 L1019.5,28.8 L1021.5,28.5 L1021.3,30.5 L1021.0,32.6 L1020.8,34.6 L1020.5,36.6 L1020.2,38.7 L1019.9,40.7 L1019.6,42.7 L1019.3,44.8 L1018.9,46.8 L1018.5,48.9 L1018.1,50.9 L1017.7,52.9 L1017.3,55.0 L1016.8,57.0 L1016.4,59.0 L1015.9,61.1 L1015.4,63.1 L1014.8,65.1 L1014.3,67.2 L1013.8,69.2 L1013.2,71.2 L1012.6,73.2 L1012.0,75.2 L1011.4,77.2 L1010.7,79.2 L1010.1,81.2 L1009.4,83.2 L1008.7,85.2 L1008.0,87.2 L1007.3,89.2 L1006.5,91.2 L1005.7,93.1 L1005.0,95.1 L1004.2,97.0 L1003.4,99.0 L1002.5,100.9 L1001.7,102.8 L1000.8,104.7 L999.9,106.7 L999.0,108.6 L998.1,110.4 L997.2,112.3 L996.2,114.2 L995.3,116.1 L994.3,117.9 L993.3,119.7 L992.3,121.6 L991.2,123.4 L990.2,125.2 L989.1,127.0 L988.0,128.8 L986.9,130.5 L985.8,132.3 L984.7,134.0 L983.5,135.8 L982.4,137.5 L981.2,139.2 L980.0,140.9 L978.8,142.5 L977.5,144.2 L976.3,145.8 L975.0,147.5 L973.7,149.1 L972.4,150.7 L971.1,152.2 L969.8,153.8 L968.4,155.3 L967.0,156.9 L965.7,158.4 L964.3,159.8 L962.9,161.3 L961.4,162.8 L960.0,164.2 L958.5,165.6 L957.0,167.0 L955.5,168.4 L954.0,169.7 L952.5,171.1 L950.9,172.4 L949.4,173.7 L947.8,174.9 L946.2,176.2 L944.6,177.4 L943.0,178.6 L941.3,179.8 L939.7,180.9 L938.0,182.1 L936.3,183.2 L934.6,184.3 L932.9,185.3 L931.2,186.4 L929.4,187.4 L927.6,188.4 L925.8,189.3 L924.0,190.3 L922.2,191.2 L920.4,192.1 L918.6,193.0 L916.7,193.8 L914.8,194.7 L913.0,195.5 L911.1,196.3 L909.2,197.0 L907.2,197.8 L905.3,198.5 L903.4,199.2 L901.4,199.9 L899.5,200.6 L897.5,201.3 L895.5,201.9 L893.5,202.6 L891.6,203.2 L889.5,203.8 L887.5,204.4 L885.5,204.9 L883.5,205.5 L881.5,206.1 L879.4,206.6 L877.4,207.1 L875.3,207.6 L873.3,208.2 L871.2,208.7 L869.1,209.1 L867.1,209.6 L865.0,210.1 L862.9,210.6 L860.8,211.0 L858.8,211.5 L856.7,211.9 L854.6,212.3 L852.5,212.8 L850.4,213.2 L848.3,213.6 L846.2,214.0 L844.1,214.5 L842.0,214.9 L840.0,215.3 L837.9,215.7 L835.8,216.1 L833.7,216.5 L831.6,216.9 L829.5,217.3 L827.4,217.7 L825.4,218.1 L823.3,218.6 L821.2,219.0 L819.2,219.4 L817.1,219.8 L815.0,220.2 L813.0,220.7 L810.9,221.1 L808.9,221.5 L806.9,222.0 L804.8,222.4 L802.8,222.9 L800.8,223.3 L798.7,223.8 L796.7,224.2 L794.7,224.7 L792.7,225.2 L790.7,225.7 L788.7,226.2 L786.7,226.6 L784.7,227.1 L782.7,227.7 L780.7,228.2 L778.7,228.7 L776.7,229.2 L774.8,229.8 L772.8,230.3 L770.8,230.9 L768.8,231.4 L766.9,232.0 L764.9,232.6 L762.9,233.2 L761.0,233.8 L759.0,234.4 L757.1,235.0 L755.1,235.6 L753.2,236.2 L751.2,236.9 L749.3,237.5 L747.3,238.2 L745.4,238.9 L743.5,239.6 L741.5,240.3 L739.6,241.0 L737.7,241.7 L735.7,242.5 L733.8,243.2 L731.9,244.0 L729.9,244.7 L728.0,245.5 L726.1,246.3 L724.2,247.1 L722.3,247.9 L720.3,248.8 L718.4,249.6 L716.5,250.5 Z" stroke="#5a4f9c" stroke-width="1.9" transform="translate(-0.5,-0.5)"/><path d="M713.6,254.0 L714.0,251.9 L714.3,249.8 L714.7,247.7 L715.0,245.6 L715.4,243.5 L715.8,241.4 L716.2,239.3 L716.6,237.2 L717.0,235.1 L717.4,232.9 L717.9,230.8 L718.3,228.7 L718.8,226.6 L719.2,224.4 L719.7,222.3 L720.2,220.1 L720.7,218.0 L721.2,215.9 L721.7,213.7 L722.2,211.6 L722.8,209.5 L723.3,207.3 L723.9,205.2 L724.5,203.1 L725.1,200.9 L725.7,198.8 L726.3,196.7 L726.9,194.6 L727.5,192.4 L728.2,190.3 L728.9,188.2 L729.5,186.1 L730.2,184.0 L730.9,181.9 L731.7,179.8 L732.4,177.8 L733.2,175.7 L733.9,173.6 L734.7,171.6 L735.5,169.5 L736.3,167.5 L737.1,165.4 L738.0,163.4 L738.8,161.4 L739.7,159.4 L740.6,157.4 L741.5,155.4 L742.4,153.4 L743.4,151.5 L744.3,149.5 L745.3,147.6 L746.3,145.6 L747.3,143.7 L748.3,141.8 L749.4,139.9 L750.4,138.0 L751.5,136.2 L752.6,134.3 L753.7,132.5 L754.8,130.6 L756.0,128.8 L757.2,127.1 L758.4,125.3 L759.6,123.5 L760.8,121.8 L762.1,120.1 L763.3,118.3 L764.6,116.7 L765.9,115.0 L767.3,113.3 L768.6,111.7 L770.0,110.1 L771.4,108.5 L772.8,106.9 L774.2,105.3 L775.7,103.8 L777.2,102.3 L778.7,100.8 L780.2,99.3 L781.7,97.8 L783.2,96.4 L784.8,94.9 L786.4,93.5 L788.0,92.1 L789.6,90.7 L791.2,89.4 L792.8,88.0 L794.5,86.7 L796.2,85.4 L797.9,84.1 L799.6,82.8 L801.3,81.6 L803.0,80.3 L804.8,79.1 L806.6,77.9 L808.3,76.7 L810.1,75.6 L811.9,74.4 L813.8,73.3 L815.6,72.2 L817.4,71.1 L819.3,70.0 L821.2,68.9 L823.1,67.9 L825.0,66.9 L826.9,65.9 L828.8,64.9 L830.7,63.9 L832.6,62.9 L834.6,62.0 L836.6,61.1 L838.5,60.2 L840.5,59.3 L842.5,58.4 L844.5,57.6 L846.5,56.7 L848.5,55.9 L850.6,55.1 L852.6,54.3 L854.6,53.5 L856.7,52.8 L858.7,52.1 L860.8,51.3 L862.9,50.6 L865.0,50.0 L867.0,49.3 L869.1,48.6 L871.2,48.0 L873.3,47.4 L875.4,46.8 L877.6,46.2 L879.7,45.6 L881.8,45.0 L883.9,44.5 L886.1,44.0 L888.2,43.4 L890.4,42.9 L892.5,42.4 L894.7,42.0 L896.8,41.5 L899.0,41.0 L901.2,40.6 L903.3,40.2 L905.5,39.7 L907.7,39.3 L909.8,38.9 L912.0,38.5 L914.2,38.1 L916.4,37.7 L918.6,37.4 L920.8,37.0 L923.0,36.7 L925.1,36.3 L927.3,36.0 L929.5,35.7 L931.7,35.3 L933.9,35.0 L936.1,34.7 L938.3,34.4 L940.5,34.1 L942.7,33.8 L944.9,33.5 L947.1,33.2 L949.3,32.9 L951.5,32.6 L953.6,32.4 L955.8,32.1 L958.0,31.8 L960.2,31.5 L962.4,31.3 L964.6,31.0 L966.8,30.7 L968.9,30.5 L971.1,30.2 L973.3,29.9 L975.4,29.7 L977.6,29.4 L979.8,29.1 L981.9,28.9 L984.1,28.6 L986.2,28.3 L988.4,28.0 L990.5,27.7 L992.6,27.5 L994.8,27.2 L996.9,26.9 L999.0,26.6 L1001.1,26.3 L1003.3,26.0 L1005.4,25.7 L1007.5,25.4 L1009.5,25.0 L1011.6,24.7 L1013.7,24.4 L1015.8,24.0 L1017.8,23.7 L1019.9,23.3 L1022.0,23.0 L1024.0,22.6 L1023.8,24.7 L1023.5,26.8 L1023.3,28.9 L1023.0,31.0 L1022.7,33.1 L1022.4,35.2 L1022.1,37.3 L1021.7,39.4 L1021.4,41.5 L1021.0,43.6 L1020.6,45.7 L1020.2,47.8 L1019.8,49.9 L1019.4,52.0 L1019.0,54.1 L1018.5,56.2 L1018.0,58.3 L1017.5,60.4 L1017.0,62.6 L1016.5,64.7 L1016.0,66.8 L1015.4,68.9 L1014.9,71.0 L1014.3,73.0 L1013.7,75.1 L1013.1,77.2 L1012.4,79.3 L1011.8,81.4 L1011.1,83.5 L1010.5,85.6 L1009.8,87.6 L1009.1,89.7 L1008.3,91.8 L1007.6,93.8 L1006.9,95.9 L1006.1,98.0 L1005.3,100.0 L1004.5,102.1 L1003.7,104.1 L1002.9,106.1 L1002.1,108.2 L1001.2,110.2 L1000.3,112.2 L999.5,114.2 L998.6,116.2 L997.7,118.2 L996.7,120.2 L995.8,122.2 L994.8,124.2 L993.9,126.1 L992.9,128.1 L991.9,130.0 L990.9,132.0 L989.8,133.9 L988.8,135.8 L987.7,137.7 L986.6,139.6 L985.5,141.5 L984.4,143.4 L983.3,145.2 L982.1,147.1 L981.0,148.9 L979.8,150.7 L978.6,152.5 L977.3,154.3 L976.1,156.0 L974.8,157.8 L973.5,159.5 L972.2,161.2 L970.9,162.9 L969.5,164.5 L968.2,166.2 L966.8,167.8 L965.4,169.4 L963.9,170.9 L962.5,172.5 L961.0,174.0 L959.5,175.5 L957.9,176.9 L956.4,178.4 L954.8,179.8 L953.3,181.2 L951.6,182.6 L950.0,183.9 L948.4,185.2 L946.7,186.5 L945.0,187.8 L943.3,189.0 L941.6,190.2 L939.9,191.4 L938.1,192.6 L936.3,193.7 L934.5,194.8 L932.7,195.9 L930.9,197.0 L929.0,198.0 L927.2,199.0 L925.3,200.0 L923.4,200.9 L921.5,201.9 L919.6,202.8 L917.7,203.7 L915.7,204.6 L913.8,205.4 L911.8,206.2 L909.8,207.0 L907.8,207.8 L905.8,208.6 L903.8,209.3 L901.7,210.1 L899.7,210.8 L897.6,211.5 L895.6,212.2 L893.5,212.8 L891.4,213.5 L889.3,214.1 L887.2,214.7 L885.1,215.3 L883.0,215.9 L880.9,216.5 L878.8,217.0 L876.6,217.6 L874.5,218.1 L872.3,218.6 L870.2,219.1 L868.0,219.6 L865.9,220.1 L863.7,220.6 L861.5,221.0 L859.4,221.5 L857.2,221.9 L855.0,222.4 L852.8,222.8 L850.7,223.2 L848.5,223.6 L846.3,224.0 L844.1,224.4 L841.9,224.8 L839.7,225.2 L837.6,225.6 L835.4,226.0 L833.2,226.3 L831.0,226.7 L828.8,227.1 L826.7,227.4 L824.5,227.8 L822.3,228.1 L820.2,228.5 L818.0,228.8 L815.9,229.2 L813.7,229.5 L811.6,229.9 L809.4,230.2 L807.3,230.6 L805.1,230.9 L803.0,231.3 L800.9,231.7 L798.7,232.0 L796.6,232.4 L794.5,232.7 L792.4,233.1 L790.3,233.5 L788.2,233.9 L786.1,234.2 L784.0,234.6 L781.9,235.0 L779.8,235.4 L777.7,235.8 L775.6,236.2 L773.5,236.7 L771.4,237.1 L769.3,237.5 L767.2,238.0 L765.1,238.4 L763.1,238.9 L761.0,239.4 L758.9,239.8 L756.8,240.3 L754.8,240.8 L752.7,241.4 L750.6,241.9 L748.6,242.4 L746.5,243.0 L744.4,243.6 L742.4,244.1 L740.3,244.7 L738.3,245.4 L736.2,246.0 L734.1,246.6 L732.1,247.3 L730.0,248.0 L728.0,248.7 L725.9,249.4 L723.9,250.1 L721.8,250.8 L719.8,251.6 L717.7,252.4 L715.7,253.2 L713.6,254.0 Z" stroke="#1f2230" stroke-width="2.2"/></g><rect x="105.7" y="14.9" width="375.3" height="276.3" fill="none" stroke="#2b2b2b" stroke-width="1.9"/><rect x="682.3" y="12.0" width="373.0" height="276.1" fill="none" stroke="#2b2b2b" stroke-width="1.9"/><path d="M105.7,291.0h6.5 M105.7,263.4h4.5 M105.7,235.8h6.5 M105.7,208.2h4.5 M105.7,180.5h6.5 M105.7,152.9h4.5 M105.7,125.3h6.5 M105.7,97.7h4.5 M105.7,70.1h6.5 M105.7,42.4h4.5 M105.7,14.8h6.5 M137.4,291.2v-6.5 M168.7,291.2v-4.5 M200.0,291.2v-6.5 M231.3,291.2v-4.5 M262.6,291.2v-6.5 M293.9,291.2v-4.5 M325.2,291.2v-6.5 M356.5,291.2v-4.5 M387.8,291.2v-6.5 M419.1,291.2v-4.5 M450.4,291.2v-6.5 M682.3,289.3h4.5 M682.3,258.5h6.5 M682.3,227.7h4.5 M682.3,196.9h6.5 M682.3,166.1h4.5 M682.3,135.3h6.5 M682.3,104.5h4.5 M682.3,73.7h6.5 M682.3,42.9h4.5 M682.3,12.1h6.5 M713.1,288.1v-6.5 M744.3,288.1v-4.5 M775.5,288.1v-6.5 M806.7,288.1v-4.5 M837.9,288.1v-6.5 M869.1,288.1v-4.5 M900.3,288.1v-6.5 M931.5,288.1v-4.5 M962.7,288.1v-6.5 M993.9,288.1v-4.5 M1025.1,288.1v-6.5" stroke="#2b2b2b" stroke-width="2" fill="none"/><text x="97.5" y="22.9" font-size="21" text-anchor="end" fill="#333" font-family="Liberation Serif, serif" >0.4</text><text x="97.5" y="78.2" font-size="21" text-anchor="end" fill="#333" font-family="Liberation Serif, serif" >0.2</text><text x="97.5" y="133.4" font-size="21" text-anchor="end" fill="#333" font-family="Liberation Serif, serif" >0</text><text x="97.5" y="188.6" font-size="21" text-anchor="end" fill="#333" font-family="Liberation Serif, serif" >−0.2</text><text x="97.5" y="243.9" font-size="21" text-anchor="end" fill="#333" font-family="Liberation Serif, serif" >−0.4</text><text x="97.5" y="299.1" font-size="21" text-anchor="end" fill="#333" font-family="Liberation Serif, serif" >−0.6</text><text x="138.3" y="313.2" font-size="21" text-anchor="middle" fill="#333" font-family="Liberation Serif, serif" >0</text><text x="199.4" y="313.2" font-size="21" text-anchor="middle" fill="#333" font-family="Liberation Serif, serif" >0.2</text><text x="263.3" y="313.2" font-size="21" text-anchor="middle" fill="#333" font-family="Liberation Serif, serif" >0.4</text><text x="322.8" y="313.2" font-size="21" text-anchor="middle" fill="#333" font-family="Liberation Serif, serif" >0.6</text><text x="386.5" y="313.2" font-size="21" text-anchor="middle" fill="#333" font-family="Liberation Serif, serif" >0.8</text><text x="451.3" y="313.2" font-size="21" text-anchor="middle" fill="#333" font-family="Liberation Serif, serif" >1.0</text><text x="674.2" y="20.9" font-size="21" text-anchor="end" fill="#333" font-family="Liberation Serif, serif" >0.8</text><text x="674.2" y="82.5" font-size="21" text-anchor="end" fill="#333" font-family="Liberation Serif, serif" >0.4</text><text x="674.2" y="144.1" font-size="21" text-anchor="end" fill="#333" font-family="Liberation Serif, serif" >0</text><text x="674.2" y="205.7" font-size="21" text-anchor="end" fill="#333" font-family="Liberation Serif, serif" >−0.4</text><text x="674.2" y="267.3" font-size="21" text-anchor="end" fill="#333" font-family="Liberation Serif, serif" >−0.8</text><text x="714.2" y="312.7" font-size="21" text-anchor="middle" fill="#333" font-family="Liberation Serif, serif" >0</text><text x="775.0" y="312.7" font-size="21" text-anchor="middle" fill="#333" font-family="Liberation Serif, serif" >0.2</text><text x="839.6" y="312.7" font-size="21" text-anchor="middle" fill="#333" font-family="Liberation Serif, serif" >0.4</text><text x="898.8" y="312.7" font-size="21" text-anchor="middle" fill="#333" font-family="Liberation Serif, serif" >0.6</text><text x="962.9" y="312.7" font-size="21" text-anchor="middle" fill="#333" font-family="Liberation Serif, serif" >0.8</text><text x="1027.9" y="312.7" font-size="21" text-anchor="middle" fill="#333" font-family="Liberation Serif, serif" >1.0</text><text x="240.4" y="345.2" font-size="21" text-anchor="start" fill="#333" font-family="Liberation Serif, serif" >Potential/V</text><text x="819.4" y="345.0" font-size="21" text-anchor="start" fill="#333" font-family="Liberation Serif, serif" >Potential/V</text><text transform="translate(38.0,255.3) rotate(-90)" font-size="20" fill="#333" font-family="Liberation Serif, serif" textLength="200" lengthAdjust="spacingAndGlyphs">Current Density/(A·g<tspan dy="-8" font-size="12">−1</tspan><tspan dy="8">)</tspan></text><text transform="translate(616.5,260.6) rotate(-90)" font-size="20" fill="#333" font-family="Liberation Serif, serif" textLength="203" lengthAdjust="spacingAndGlyphs">Current Density/(A·g<tspan dy="-8" font-size="12">−1</tspan><tspan dy="8">)</tspan></text><text x="11.5" y="21.5" font-size="22" text-anchor="start" fill="#333" font-family="Liberation Serif, serif" >(a)</text><text x="583.8" y="21.3" font-size="22" text-anchor="start" fill="#333" font-family="Liberation Serif, serif" >(b)</text><rect x="922.6" y="208.5" width="117.9" height="68.7" fill="#fff" stroke="#222" stroke-width="1.6"/><path d="M927,220H968" stroke="#2a2a35" stroke-width="2.4"/><text x="969.7" y="225.3" font-size="16" text-anchor="start" fill="#222" font-family="Liberation Serif, serif" >0 cycle</text><path d="M927,242.6H968" stroke="#c0606e" stroke-width="2.4"/><text x="969.7" y="247.9" font-size="16" text-anchor="start" fill="#222" font-family="Liberation Serif, serif" >50 cycles</text><path d="M927,264.4H968" stroke="#6070a0" stroke-width="2.4"/><text x="969.7" y="269.7" font-size="16" text-anchor="start" fill="#222" font-family="Liberation Serif, serif" >100 cycles</text><path d="M194,210.1H225.5" stroke="#333" stroke-width="2.6"/><path d="M194,257.6H225.5" stroke="#c8504f" stroke-width="2.6"/><path d="M331.5,211H362.3" stroke="#5f6a94" stroke-width="2.6"/><path d="M331.5,257.8H362.3" stroke="#5a8c8a" stroke-width="2.6"/><defs><filter id="pb" x="-5%" y="-5%" width="110%" height="110%"><feGaussianBlur stdDeviation="0.55"/></filter><clipPath id="c0"><rect x="233.3" y="187.5" width="70.1" height="43.1"/></clipPath><clipPath id="c45"><rect x="233.3" y="236.1" width="69" height="43.1"/></clipPath><clipPath id="c90"><rect x="374.4" y="182.4" width="67.3" height="47.2"/></clipPath><clipPath id="c135"><rect x="374.7" y="236.1" width="67" height="43.7"/></clipPath></defs><g clip-path="url(#c0)"><g filter="url(#pb)"><rect x="233.3" y="187.5" width="70.1" height="43.1" fill="#66858f"/><rect x="233.3" y="187.5" width="70.1" height="21.5" fill="#78919a"/><rect x="233.3" y="202.5" width="70.1" height="5" fill="#8399a0"/><rect x="255" y="189" width="30" height="13" fill="#7c959c"/><rect x="233.3" y="226" width="70.1" height="5" fill="#5f7d88"/><path d="M234,211.5 C246,213.5 258,214 270,212 C282,210.5 292,210.5 303.4,211.5" stroke="#42606a" stroke-width="3" fill="none"/><path d="M234,209.5 C246,211.5 258,212 270,210 C282,208.5 292,208.5 303.4,209.5" stroke="#17242a" stroke-width="3.2" fill="none"/><path d="M234.5,203 v11" stroke="#17242a" stroke-width="2.2"/><text x="282.2" y="206.7" font-size="19" font-family="Liberation Serif, serif" font-weight="bold" fill="#15252c">0°</text></g></g><g clip-path="url(#c45)"><g filter="url(#pb)"><rect x="233.3" y="236.1" width="69" height="43.1" fill="#62818c"/><path d="M233.3,236.1 H284 C283,245 280,252 275,257 C268,262 255,264 233.3,265 Z" fill="#75929c"/><rect x="233.3" y="272" width="69" height="7.2" fill="#5c7a86"/><path d="M234,266.5 C248,266 262,265 272,260.5 C279,256 282.5,249 284.5,241 L285.5,236" stroke="#16232a" stroke-width="3.6" fill="none"/><path d="M283,236 L289.5,236 C288,244 285,252 280,258 L276,259 C280,252 282,245 283,236 Z" fill="#1a282f"/><path d="M270,267.3 H302.3" stroke="#2a3e46" stroke-width="1.6"/><path d="M234.5,262 v7" stroke="#16232a" stroke-width="2.2"/><text x="276.3" y="263.6" font-size="17.5" font-family="Liberation Sans, sans-serif" font-weight="bold" fill="#0e1c22" stroke="#0e1c22" stroke-width="0.5">45°</text></g></g><g clip-path="url(#c90)"><g filter="url(#pb)"><rect x="374.4" y="182.4" width="67.3" height="47.2" fill="#5f7d88"/><path d="M374.4,182.4 H408 V210 Q408,216.5 401,216.5 H374.4 Z" fill="#829ca5"/><rect x="374.4" y="221" width="67.3" height="8.6" fill="#5b7984"/><path d="M406.8,182.4 H415 L413.8,198 L413,212 Q411.5,220 403,220 H375.5 V216.6 H401.5 Q407.4,216.4 407.6,210 L407.4,196 Z" fill="#17242b"/><path d="M408,218.5 H439" stroke="#2a3e46" stroke-width="1.6"/><path d="M376,213 v7" stroke="#17232a" stroke-width="2.4"/><text x="415.4" y="207.8" font-size="17" font-family="Liberation Sans, sans-serif" font-weight="bold" letter-spacing="-0.6" fill="#12212a">90°</text></g></g><g clip-path="url(#c135)"><g filter="url(#pb)"><rect x="374.7" y="236.1" width="67" height="43.7" fill="#6b8994"/><rect x="374.7" y="271" width="67" height="8.8" fill="#617f8a"/><path d="M378,250 L411,264.5 L404,268.5 L378,268.5 Z" fill="#8ea7ae"/><path d="M383,246 C392,251 402,257 412,264" stroke="#16232a" stroke-width="3" fill="none"/><path d="M375.5,242 v8" stroke="#16232a" stroke-width="2.4"/><path d="M375.5,267 C379,270 384,270.8 392,270.3 C400,269.8 408,269 414,267.5 L412,263" stroke="#16232a" stroke-width="2.8" fill="none"/><path d="M412,269.8 H440" stroke="#2d424a" stroke-width="1.6"/><text x="411.5" y="259.6" font-size="16.5" font-family="Liberation Sans, sans-serif" fill="#12212a" stroke="#12212a" stroke-width="0.8" letter-spacing="-0.4">135°</text></g></g></svg>
<svg width="1080" height="429" viewBox="0 0 1080 429" style="position:absolute;left:0;top:0"><text x="93.2" y="389.3" font-size="22.5" letter-spacing="0" fill="#303030" font-family='"Liberation Serif","Noto Serif CJK SC",serif' >(</text><text x="104.8" y="389.3" font-size="22.5" letter-spacing="0" fill="#303030" font-family='"Liberation Serif","Noto Serif CJK SC",serif' >a</text><text x="120.0" y="389.3" font-size="22.5" letter-spacing="0" fill="#303030" font-family='"Liberation Serif","Noto Serif CJK SC",serif' >)</text><text transform="translate(138.8,389.3) scale(1.05,1)" font-size="22" letter-spacing="0" fill="#303030" font-family='"Liberation Serif","Noto Serif CJK SC",serif' font-weight="600">在</text><text x="168.6" y="389.3" font-size="22.5" letter-spacing="0" fill="#303030" font-family='"Liberation Serif","Noto Serif CJK SC",serif' >10</text><text x="197.2" y="389.3" font-size="22.5" letter-spacing="2.4" fill="#303030" font-family='"Liberation Serif","Noto Serif CJK SC",serif' >mV</text><text x="242.2" y="389.3" font-size="22.5" letter-spacing="0" fill="#303030" font-family='"Liberation Serif","Noto Serif CJK SC",serif' font-weight="bold">·</text><text x="257.8" y="389.3" font-size="22.5" letter-spacing="0" fill="#303030" font-family='"Liberation Serif","Noto Serif CJK SC",serif' >s</text><text x="269.4" y="380.3" font-size="13.5" letter-spacing="0" fill="#303030" font-family='"Liberation Serif","Noto Serif CJK SC",serif' >-</text><text x="277.6" y="380.3" font-size="13.5" letter-spacing="0" fill="#303030" font-family='"Liberation Serif","Noto Serif CJK SC",serif' >1</text><text transform="translate(286.6,389.3) scale(1.05,1)" font-size="22" letter-spacing="0" fill="#303030" font-family='"Liberation Serif","Noto Serif CJK SC",serif' font-weight="600">下</text><text x="314.2" y="389.3" font-size="22.5" letter-spacing="0" fill="#303030" font-family='"Liberation Serif","Noto Serif CJK SC",serif' >,</text><text transform="translate(321.4,389.3) scale(1.05,1)" font-size="22" letter-spacing="1.086" fill="#303030" font-family='"Liberation Serif","Noto Serif CJK SC",serif' font-weight="600">柔性器件在不同弯曲角度</text><text x="589.0" y="389.3" font-size="22.5" letter-spacing="0" fill="#303030" font-family='"Liberation Serif","Noto Serif CJK SC",serif' >(</text><text x="601.0" y="389.3" font-size="22.5" letter-spacing="0" fill="#303030" font-family='"Liberation Serif","Noto Serif CJK SC",serif' >0°</text><text x="626.5" y="389.3" font-size="22" letter-spacing="0" fill="#303030" font-family='"Liberation Serif","Noto Serif CJK SC",serif' font-weight="600">，</text><text x="643.6" y="389.3" font-size="22.5" letter-spacing="0.3" fill="#303030" font-family='"Liberation Serif","Noto Serif CJK SC",serif' >45°</text><text x="682.2" y="389.3" font-size="22" letter-spacing="0" fill="#303030" font-family='"Liberation Serif","Noto Serif CJK SC",serif' font-weight="600">，</text><text x="698.2" y="389.3" font-size="22.5" letter-spacing="0.3" fill="#303030" font-family='"Liberation Serif","Noto Serif CJK SC",serif' >90°</text><text transform="translate(734.6,389.3) scale(1.05,1)" font-size="22" letter-spacing="0" fill="#303030" font-family='"Liberation Serif","Noto Serif CJK SC",serif' font-weight="600">和</text><text x="763.6" y="389.3" font-size="22.5" letter-spacing="0.3" fill="#303030" font-family='"Liberation Serif","Noto Serif CJK SC",serif' >135°</text><text x="813.2" y="389.3" font-size="22.5" letter-spacing="0" fill="#303030" font-family='"Liberation Serif","Noto Serif CJK SC",serif' >)</text><text transform="translate(825.7,389.3) scale(1.05,1)" font-size="22" letter-spacing="0.667" fill="#303030" font-family='"Liberation Serif","Noto Serif CJK SC",serif' font-weight="600">下的循环伏安曲线；</text><text x="113.6" y="419.8" font-size="22.5" letter-spacing="0" fill="#303030" font-family='"Liberation Serif","Noto Serif CJK SC",serif' >(</text><text x="125.0" y="419.8" font-size="22.5" letter-spacing="0" fill="#303030" font-family='"Liberation Serif","Noto Serif CJK SC",serif' >b</text><text x="142.2" y="419.8" font-size="22.5" letter-spacing="0" fill="#303030" font-family='"Liberation Serif","Noto Serif CJK SC",serif' >)</text><text transform="translate(161.0,419.8) scale(1.05,1)" font-size="22" letter-spacing="0" fill="#303030" font-family='"Liberation Serif","Noto Serif CJK SC",serif' font-weight="600">在</text><text x="190.6" y="419.8" font-size="22.5" letter-spacing="0" fill="#303030" font-family='"Liberation Serif","Noto Serif CJK SC",serif' >50</text><text x="221.6" y="419.8" font-size="22.5" letter-spacing="2.4" fill="#303030" font-family='"Liberation Serif","Noto Serif CJK SC",serif' >mV</text><text x="265.3" y="419.8" font-size="22.5" letter-spacing="0" fill="#303030" font-family='"Liberation Serif","Noto Serif CJK SC",serif' font-weight="bold">·</text><text x="280.2" y="419.8" font-size="22.5" letter-spacing="0" fill="#303030" font-family='"Liberation Serif","Noto Serif CJK SC",serif' >s</text><text x="291.8" y="410.8" font-size="13.5" letter-spacing="0" fill="#303030" font-family='"Liberation Serif","Noto Serif CJK SC",serif' >-</text><text x="300.0" y="410.8" font-size="13.5" letter-spacing="0" fill="#303030" font-family='"Liberation Serif","Noto Serif CJK SC",serif' >1</text><text transform="translate(309.0,419.8) scale(1.05,1)" font-size="22" letter-spacing="0" fill="#303030" font-family='"Liberation Serif","Noto Serif CJK SC",serif' font-weight="600">下</text><text x="335.2" y="419.8" font-size="22.5" letter-spacing="0" fill="#303030" font-family='"Liberation Serif","Noto Serif CJK SC",serif' >,</text><text transform="translate(343.8,419.8) scale(1.05,1)" font-size="22" letter-spacing="1.0" fill="#303030" font-family='"Liberation Serif","Noto Serif CJK SC",serif' font-weight="600">柔性全固态超级电容器在不同弯曲循环次数下的循环伏安曲线。</text><text x="740.2" y="419.6" font-size="46.5" fill="#0a0ae6" stroke="#0a0ae6" stroke-width="1.1" font-family="Liberation Sans, Arial, sans-serif">www.ilschem.cn</text></svg>
</div></body></html>
